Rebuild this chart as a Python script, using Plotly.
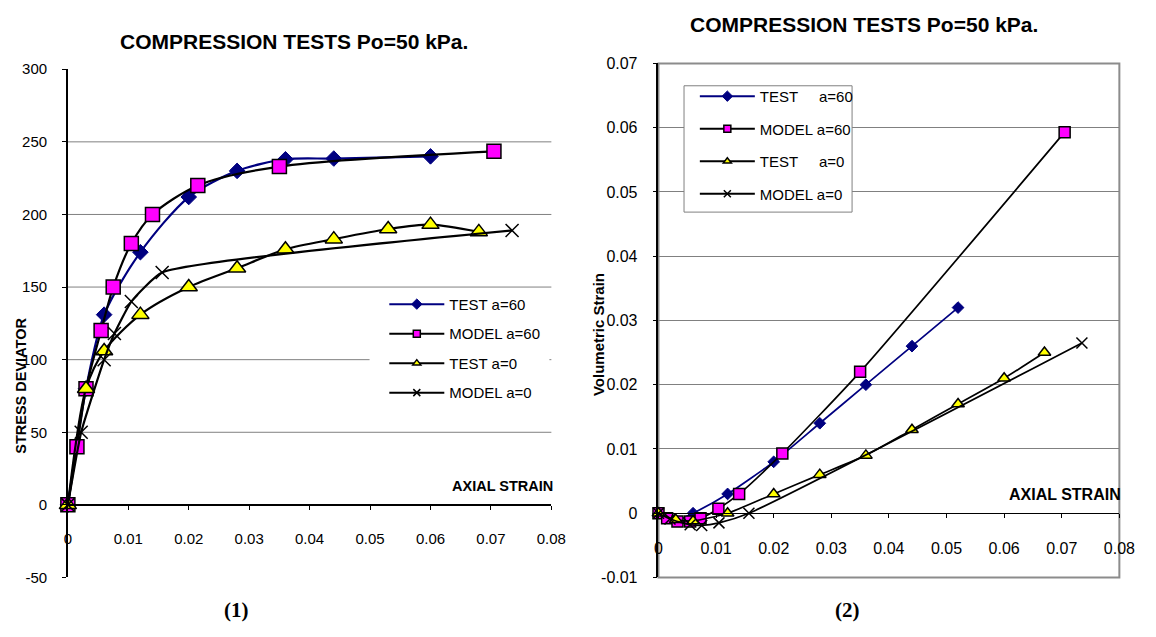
import plotly.graph_objects as go

# ---------------- data: deviatoric stress vs axial strain ----------------
test60_eps = [0, 0.003, 0.006, 0.012, 0.020, 0.028, 0.036, 0.044, 0.060]
test60_q = [0, 80, 131, 174, 212, 230, 238, 238.5, 240]

model60_eps = [0, 0.0015, 0.003, 0.0055, 0.0075, 0.0105, 0.014, 0.0215, 0.035, 0.0705]
model60_q = [0, 40, 80, 120, 150, 180, 200, 220, 233, 243.5]

test0_eps = [0, 0.003, 0.006, 0.012, 0.020, 0.028, 0.036, 0.044, 0.053, 0.060, 0.068]
test0_q = [0, 80, 106, 131, 150, 163, 176, 183, 190, 193, 188]

model0_eps = [0, 0.0022, 0.006, 0.0077, 0.0105, 0.0156, 0.0735]
model0_q = [0, 50, 100, 118, 140, 160, 189]

# ---------------- data: volumetric strain vs axial strain ----------------
test60_ev_eps = [0, 0.003, 0.006, 0.012, 0.020, 0.028, 0.036, 0.044, 0.052]
test60_ev = [0, -0.0012, 0, 0.003, 0.008, 0.014, 0.020, 0.026, 0.032]

model60_ev_eps = [0, 0.0015, 0.0033, 0.0055, 0.0073, 0.0104, 0.014, 0.0215, 0.035, 0.0705]
model60_ev = [0, -0.0008, -0.0013, -0.0013, -0.0008, 0.0007, 0.003, 0.0093, 0.022, 0.0593]

test0_ev_eps = [0, 0.003, 0.006, 0.012, 0.020, 0.028, 0.036, 0.044, 0.052, 0.060, 0.067]
test0_ev = [0, -0.001, -0.0012, 0, 0.003, 0.006, 0.009, 0.013, 0.017, 0.021, 0.025]

model0_ev_eps = [0, 0.002, 0.0055, 0.0075, 0.0105, 0.0157, 0.0735]
model0_ev = [0, -0.0009, -0.0018, -0.0019, -0.0015, 0, 0.0265]

# ---------------- axis ticks ----------------
strain_ticks = [0, 0.01, 0.02, 0.03, 0.04, 0.05, 0.06, 0.07, 0.08]
strain_labels = ["0", "0.01", "0.02", "0.03", "0.04", "0.05", "0.06", "0.07", "0.08"]
q_ticks = [-50, 0, 50, 100, 150, 200, 250, 300]
q_labels = ["-50", "0", "50", "100", "150", "200", "250", "300"]
q_grid = [50, 100, 150, 200, 250]
ev_ticks = [-0.01, 0, 0.01, 0.02, 0.03, 0.04, 0.05, 0.06, 0.07]
ev_labels = ["-0.01", "0", "0.01", "0.02", "0.03", "0.04", "0.05", "0.06", "0.07"]

W, H = 1156, 637
FONT = "Liberation Sans, Arial, sans-serif"
SERIF = "Liberation Serif, Times New Roman, serif"
NAVY = "#000080"
MAGENTA = "#FF00FF"
YELLOW = "#FFFF00"
GRID = "#808080"


def px_x(p):
    return p / W


def px_y(p):
    return (H - p) / H


# subplot placement (pixels)
L_X0, L_X1, L_Y0, L_Y1 = 65, 557, 62, 585
R_X0, R_X1, R_Y0, R_Y1 = 666, 1135, 56, 585

q_range = [-50, 300]
ev_range = [-0.01, 0.07]

fig = go.Figure()

styles = {
    "t60": dict(color=NAVY,
                marker=dict(symbol="diamond", color=NAVY, line=dict(color=NAVY, width=1))),
    "m60": dict(color="black",
                marker=dict(symbol="square", color=MAGENTA, line=dict(color="black", width=1.5))),
    "t0": dict(color="black",
               marker=dict(symbol="triangle-up", color=YELLOW, line=dict(color="black", width=1.5))),
    "m0": dict(color="black",
               marker=dict(symbol="x-thin", color="black", line=dict(color="black", width=1.5))),
}

left_sizes = {"t60": 12, "m60": 14, "t0": 15, "m0": 13}
right_sizes = {"t60": 9, "m60": 11, "t0": 11, "m0": 11}
left_smooth = {"t60": 0.8, "m60": 0.8, "t0": 0.8, "m0": 0.45}

left_series = [
    ("t60", test60_eps, test60_q),
    ("m60", model60_eps, model60_q),
    ("t0", test0_eps, test0_q),
    ("m0", model0_eps, model0_q),
]
right_series = [
    ("t60", test60_ev_eps, test60_ev),
    ("m60", model60_ev_eps, model60_ev),
    ("t0", test0_ev_eps, test0_ev),
    ("m0", model0_ev_eps, model0_ev),
]

for key, xs, ys in left_series:
    st = styles[key]
    fig.add_trace(go.Scatter(
        x=xs, y=ys, mode="lines+markers", xaxis="x", yaxis="y", showlegend=False,
        line=dict(color=st["color"], width=2.2, shape="spline", smoothing=left_smooth[key]),
        marker=dict(size=left_sizes[key], **st["marker"]),
        cliponaxis=False,
    ))

for key, xs, ys in right_series:
    st = styles[key]
    fig.add_trace(go.Scatter(
        x=xs, y=ys, mode="lines+markers", xaxis="x2", yaxis="y2", showlegend=False,
        line=dict(color=st["color"], width=1.7, shape="spline", smoothing=0.6),
        marker=dict(size=right_sizes[key], **st["marker"]),
        cliponaxis=False,
    ))

# legend entries (small symbols, as in the spreadsheet legend)
left_names = {"t60": "TEST a=60", "m60": "MODEL a=60", "t0": "TEST a=0", "m0": "MODEL a=0"}
nb = "\u00a0"
right_names = {"t60": "TEST" + nb * 5 + "a=60", "m60": "MODEL a=60",
               "t0": "TEST" + nb * 5 + "a=0", "m0": "MODEL a=0"}
legend_sizes = {"t60": 8, "m60": 7, "t0": 7, "m0": 7}
for legend_id, names, ax in (("legend", left_names, ("x", "y")), ("legend2", right_names, ("x2", "y2"))):
    for key in ("t60", "m60", "t0", "m0"):
        st = styles[key]
        fig.add_trace(go.Scatter(
            x=[None], y=[None], mode="lines+markers", name=names[key],
            xaxis=ax[0], yaxis=ax[1], legend=legend_id, legendgroup=legend_id + key,
            line=dict(color=st["color"], width=2),
            marker=dict(size=legend_sizes[key], **st["marker"]),
        ))


# position of the zero line of each value axis, in paper units
def zero_pos(rng, y0, y1):
    frac = (0 - rng[0]) / (rng[1] - rng[0])
    return px_y(y1) + frac * (px_y(y0) - px_y(y1))


tick_l = dict(family=FONT, size=15, color="black")
tick_r = dict(family=FONT, size=16, color="black")
common = dict(showline=True, linecolor="black", ticks="outside", ticklen=4,
              tickcolor="black", zeroline=False)

fig.update_layout(
    width=W, height=H,
    margin=dict(l=0, r=0, t=0, b=0),
    paper_bgcolor="white", plot_bgcolor="white",
    xaxis=dict(domain=[px_x(L_X0), px_x(L_X1)], range=[0, 0.08], anchor="free",
               position=zero_pos(q_range, L_Y0, L_Y1),
               tickvals=strain_ticks, ticktext=strain_labels, tickfont=tick_l,
               linewidth=1.5, showgrid=False, ticklabelstandoff=16, **common),
    yaxis=dict(domain=[px_y(L_Y1), px_y(L_Y0)], range=q_range, anchor="x",
               tickvals=q_ticks, ticktext=q_labels, tickfont=tick_l,
               linewidth=1.5, showgrid=False, ticklabelstandoff=12, **common),
    xaxis2=dict(domain=[px_x(R_X0), px_x(R_X1)], range=[0, 0.08], anchor="free",
                position=zero_pos(ev_range, R_Y0, R_Y1),
                tickvals=strain_ticks, ticktext=strain_labels, tickfont=tick_r,
                linewidth=1.2, showgrid=False, ticklabelstandoff=16, **common),
    yaxis2=dict(domain=[px_y(R_Y1), px_y(R_Y0)], range=ev_range, anchor="x2",
                tickvals=ev_ticks, ticktext=ev_labels, tickfont=tick_r,
                linewidth=1.5, showgrid=True, gridcolor=GRID, gridwidth=1,
                ticklabelstandoff=12, **common),
    legend=dict(x=px_x(387), y=px_y(287), xanchor="left", yanchor="top",
                bgcolor="rgba(0,0,0,0)", borderwidth=0, itemwidth=55,
                font=dict(family=FONT, size=15, color="black"),
                traceorder="grouped", tracegroupgap=7),
    legend2=dict(x=px_x(703), y=px_y(73), xanchor="left", yanchor="top",
                 bgcolor="rgba(0,0,0,0)", borderwidth=0, itemwidth=55,
                 font=dict(family=FONT, size=15, color="black"),
                 traceorder="grouped", tracegroupgap=10),
)

shapes = []
# horizontal gridlines of the stress plot
for v in q_grid:
    shapes.append(dict(type="line", xref="x domain", yref="y", x0=0, x1=1, y0=v, y1=v,
                       line=dict(color=GRID, width=1), layer="below"))
# grey frame of the volumetric plot
shapes.append(dict(type="rect", xref="x2 domain", yref="y2 domain", x0=0, x1=1, y0=0, y1=1,
                   line=dict(color="#8c8c8c", width=2), layer="below"))
# legend backgrounds
shapes.append(dict(type="rect", xref="paper", yref="paper",
                   x0=px_x(372), x1=px_x(555), y0=px_y(404), y1=px_y(292),
                   fillcolor="white", line=dict(width=0), layer="above"))
shapes.append(dict(type="rect", xref="paper", yref="paper",
                   x0=px_x(692), x1=px_x(863), y0=px_y(209), y1=px_y(79),
                   fillcolor="white", line=dict(color=GRID, width=1), layer="above"))
fig.update_layout(shapes=shapes)

title_font = dict(family=FONT, size=21, color="black")
ann = [
    dict(text="<b>COMPRESSION TESTS Po=50 kPa.</b>", x=px_x(295), y=px_y(33), font=title_font),
    dict(text="<b>COMPRESSION TESTS Po=50 kPa.</b>", x=px_x(875), y=px_y(16), font=title_font),
    dict(text="<b>STRESS DEVIATOR</b>", x=px_x(17), y=px_y(388), textangle=-90,
         font=dict(family=FONT, size=14.5, color="black")),
    dict(text="<b>Volumetric Strain</b>", x=px_x(605), y=px_y(335), textangle=-90,
         font=dict(family=FONT, size=15, color="black")),
    dict(text="<b>AXIAL STRAIN</b>", x=px_x(561), y=px_y(491), xanchor="right",
         font=dict(family=FONT, size=14.5, color="black")),
    dict(text="<b>AXIAL STRAIN</b>", x=px_x(1139), y=px_y(500), xanchor="right",
         font=dict(family=FONT, size=16, color="black")),
    dict(text="<b>(1)</b>", x=px_x(237), y=px_y(618), font=dict(family=SERIF, size=21, color="black")),
    dict(text="<b>(2)</b>", x=px_x(858), y=px_y(618), font=dict(family=SERIF, size=21, color="black")),
]
for a in ann:
    a.setdefault("xanchor", "center")
    a.update(xref="paper", yref="paper", yanchor="middle", showarrow=False)
fig.update_layout(annotations=ann)

fig.write_html("out.html")
